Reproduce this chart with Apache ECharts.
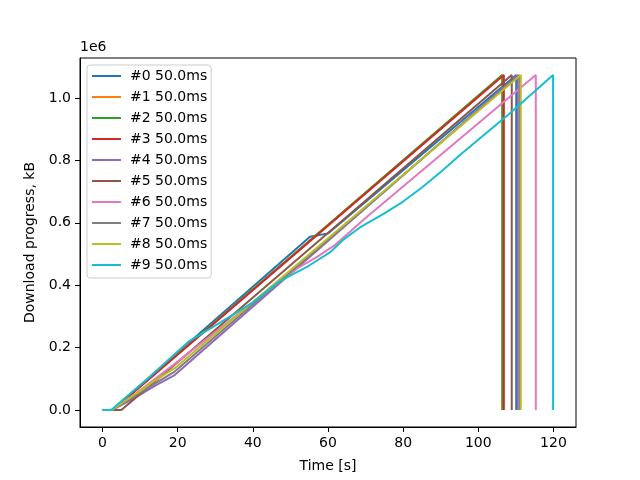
<!DOCTYPE html>
<html>
<head>
<meta charset="utf-8">
<script src="https://cdn.jsdelivr.net/npm/echarts@6/dist/echarts.min.js"></script>
<style>
  html, body { margin: 0; padding: 0; background: #fff; }
  #chart { width: 640px; height: 480px; }
</style>
</head>
<body>
<div id="chart"></div>
<script>
// download progress per run: [time s, progress kB]
const run0 = [[0, 0], [2.5, 0], [55.2, 555000], [60, 566000], [110.1, 1073742], [110.1, 0]];
const run1 = [[0, 0], [2.7, 0], [106.4, 1073742], [106.4, 0]];
const run2 = [[0, 0], [2.7, 0], [106.4, 1073742], [106.4, 0]];
const run3 = [[0, 0], [2.8, 0], [106.8, 1073742], [106.8, 0]];
const run4 = [[0, 0], [2.5, 0], [8, 35000], [14, 78000], [19.2, 112000], [110.5, 1073742], [110.5, 0]];
const run5 = [[0, 0], [5, 0], [19.2, 145000], [108.9, 1073742], [108.9, 0]];
const run6 = [[0, 0], [2.5, 0], [8, 45000], [14, 100000], [20, 155000], [30, 250000], [40, 345000],
  [47, 410000], [52, 455000], [57, 490000], [62, 530000], [70, 615000], [115.3, 1073742], [115.3, 0]];
const run7 = [[0, 0], [2.5, 0], [8, 40000], [14, 85000], [19.2, 123000], [111, 1073742], [111, 0]];
const run8 = [[0, 0], [2.5, 0], [8, 45000], [14, 95000], [19.2, 134000], [111.3, 1073742], [111.3, 0]];
const run9 = [[0, 0], [2.3, 0], [12, 100000], [23, 220000], [34, 300000], [40, 345000], [47.2, 413000],
  [55, 463000], [60.5, 505000], [64, 545000], [68.5, 585000], [75, 630000], [80, 668000], [85, 713000],
  [90, 763000], [95.2, 818000], [108.5, 952000], [119.9, 1073742], [119.9, 0]];

const runs = [run0, run1, run2, run3, run4, run5, run6, run7, run8, run9];
const names = ['#0 50.0ms', '#1 50.0ms', '#2 50.0ms', '#3 50.0ms', '#4 50.0ms',
  '#5 50.0ms', '#6 50.0ms', '#7 50.0ms', '#8 50.0ms', '#9 50.0ms'];
const colors = ['#1f77b4', '#ff7f0e', '#2ca02c', '#d62728', '#9467bd',
  '#8c564b', '#e377c2', '#7f7f7f', '#bcbd22', '#17becf'];

const xTicks = [0, 20, 40, 60, 80, 100, 120];
const yTicks = [0, 200000, 400000, 600000, 800000, 1000000];

const font = 'DejaVu Sans';
// thin horizontal stroke in the middle of a 29x14 box
const lineIcon = 'path://M0,0L0,0.01M0,6L29,6L29,8L0,8ZM29,14L29,14.01';
const chart = echarts.init(document.getElementById('chart'));

chart.setOption({
  animation: false,
  color: colors,
  textStyle: { fontFamily: font },
  grid: {
    left: 80, right: 64, top: 58, bottom: 53,
    show: true, borderColor: '#000', borderWidth: 1
  },
  graphic: [{
    type: 'text', left: 80, top: 40,
    style: { text: '1e6', font: '14px "DejaVu Sans"', fill: '#000' }
  }],
  legend: {
    orient: 'vertical', left: 87, top: 65,
    data: names.map(n => ({ name: n, icon: lineIcon })),
    itemWidth: 29, itemHeight: 14, itemGap: 7,
    padding: [4, 4, 6, 5],
    borderColor: '#cccccc', borderWidth: 1, borderRadius: 3,
    backgroundColor: 'rgba(255,255,255,0.8)',
    itemStyle: { borderWidth: 0 },
    textStyle: { fontFamily: font, fontSize: 14, color: '#000', padding: [0, 0, 0, 4] }
  },
  xAxis: {
    type: 'value', min: -6, max: 126,
    name: 'Time [s]', nameLocation: 'middle', nameGap: 32,
    nameTextStyle: { fontFamily: font, fontSize: 14, color: '#000' },
    axisLine: { onZero: false, lineStyle: { color: '#000', width: 1 } },
    axisTick: { length: 5, lineStyle: { color: '#000' }, customValues: xTicks },
    axisLabel: { margin: 9, fontFamily: font, fontSize: 14, color: '#000', customValues: xTicks },
    splitLine: { show: false }
  },
  yAxis: {
    type: 'value', min: -54500, max: 1128000,
    name: 'Download progress, kB', nameLocation: 'middle', nameGap: 38,
    nameTextStyle: { fontFamily: font, fontSize: 14, color: '#000' },
    axisLine: { show: true, onZero: false, lineStyle: { color: '#000', width: 1 } },
    axisTick: { show: true, length: 5, lineStyle: { color: '#000' }, customValues: yTicks },
    axisLabel: {
      margin: 9, fontFamily: font, fontSize: 14, color: '#000', customValues: yTicks,
      formatter: v => (v / 1e6).toFixed(1)
    },
    splitLine: { show: false }
  },
  series: runs.map((d, i) => ({
    name: names[i],
    type: 'line',
    data: d,
    symbol: 'none',
    showSymbol: false,
    lineStyle: { width: 2, color: colors[i] },
    itemStyle: { color: colors[i] }
  }))
});
</script>
</body>
</html>
